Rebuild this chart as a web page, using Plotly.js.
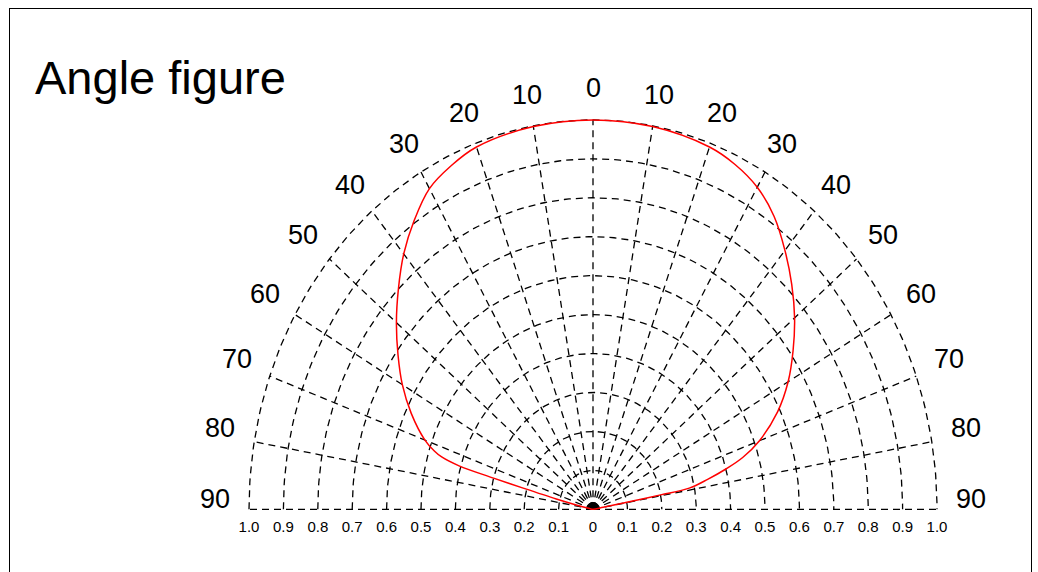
<!DOCTYPE html>
<html><head><meta charset="utf-8">
<script src="https://cdn.plot.ly/plotly-3.0.1.min.js"></script>
<style>
body{margin:0;background:#fff;}
#chart{width:1038px;height:572px;}
#frame{position:absolute;left:9px;top:8px;width:1021px;height:600px;border:1px solid #000;pointer-events:none;}
</style>
</head><body>
<div id="chart"></div><div id="frame"></div>
<script>
// ---- data ----
const chartTitle = 'Angle figure';
const angleTicks = [0, 10, 20, 30, 40, 50, 60, 70, 80, 90];
const radialTicks = [0.1, 0.2, 0.3, 0.4, 0.5, 0.6, 0.7, 0.8, 0.9, 1.0];
const radialTickText = ['0.1', '0.2', '0.3', '0.4', '0.5', '0.6', '0.7', '0.8', '0.9', '1.0'];
const leftAngles = [0, 10, 20, 25, 30, 35, 40, 45, 50, 55, 60, 65, 70, 72, 73, 74, 74.5, 75, 76, 77, 79, 90];
const leftIntensity = [1.0, 0.998, 0.99, 0.974, 0.951, 0.906, 0.856, 0.80, 0.746, 0.692, 0.64, 0.583, 0.52, 0.485, 0.46, 0.405, 0.30, 0.21, 0.11, 0.05, 0.01, 0];
const rightAngles = [0, 10, 20, 25, 30, 35, 40, 45, 50, 55, 60, 65, 70, 73, 75, 77, 79, 79.3, 79.5, 80, 90];
const rightIntensity = [1.0, 0.998, 0.99, 0.977, 0.955, 0.918, 0.868, 0.817, 0.765, 0.71, 0.655, 0.592, 0.515, 0.455, 0.40, 0.342, 0.285, 0.2, 0.1, 0.03, 0];

// ---- helpers ----
const rad = d => d * Math.PI / 180;
const px = (r, a) => r * Math.sin(rad(a));   // a: signed angle from vertical (left negative)
const py = (r, a) => r * Math.cos(rad(a));

// grid arcs
const arcX = [], arcY = [];
radialTicks.forEach(r => {
  for (let a = -90; a <= 90; a += 1) { arcX.push(px(r, a)); arcY.push(py(r, a)); }
  arcX.push(null); arcY.push(null);
});
// grid spokes
const spokeX = [], spokeY = [];
const spokeAngles = angleTicks.slice(1).map(a => -a).reverse().concat(angleTicks);
spokeAngles.forEach(a => {
  spokeX.push(0, px(1, a), null); spokeY.push(0, py(1, a), null);
});
// curve
const curveX = [], curveY = [];
for (let i = leftAngles.length - 1; i >= 0; i--) { curveX.push(px(leftIntensity[i], -leftAngles[i])); curveY.push(py(leftIntensity[i], -leftAngles[i])); }
for (let i = 1; i < rightAngles.length; i++) { curveX.push(px(rightIntensity[i], rightAngles[i])); curveY.push(py(rightIntensity[i], rightAngles[i])); }
// centre dome
const domeX = [], domeY = [];
for (let a = -90; a <= 90; a += 10) { domeX.push(px(0.018, a)); domeY.push(py(0.018, a)); }

const gridStyle = {color: '#000', width: 1.3, dash: '7px,5px'};
const traces = [
  {x: arcX, y: arcY, mode: 'lines', line: gridStyle, hoverinfo: 'skip'},
  {x: spokeX, y: spokeY, mode: 'lines', line: gridStyle, hoverinfo: 'skip'},
  {x: domeX, y: domeY, mode: 'lines', fill: 'toself', fillcolor: '#000', line: {color: '#000', width: 1}, hoverinfo: 'skip'},
  {x: curveX, y: curveY, mode: 'lines', line: {color: '#ff0000', width: 1.5, shape: 'spline', smoothing: 1.0}, hoverinfo: 'skip'}
];

// bottom tick labels
const tickVals = [], tickText = [];
radialTicks.slice().reverse().forEach((r, i) => { tickVals.push(-r); tickText.push(radialTickText[radialTickText.length - 1 - i]); });
tickVals.push(0); tickText.push('0');
radialTicks.forEach((r, i) => { tickVals.push(r); tickText.push(radialTickText[i]); });

// angle labels
const labelFont = {family: 'Liberation Sans, Arial', size: 27, color: '#000'};
const annotations = [];
angleTicks.forEach(a => {
  const sides = a === 0 ? [1] : [-1, 1];
  sides.forEach(s => {
    annotations.push({x: s * 1.1 * Math.sin(rad(a)), y: 1.055 * Math.cos(rad(a)), xref: 'x', yref: 'y',
      text: String(a), showarrow: false, font: labelFont, yshift: 10});
  });
});

const W = 1038, H = 572;
const cx = 593, cy = 509, sx = 344, sy = 389;
const xr = [-1.25, 1.25], yr = [-0.03, 1.2];
const layout = {
  width: W, height: H,
  paper_bgcolor: '#fff', plot_bgcolor: '#fff',
  showlegend: false,
  margin: {l: cx + xr[0] * sx, r: W - (cx + xr[1] * sx), t: cy - yr[1] * sy, b: H - (cy - yr[0] * sy), pad: 0},
  title: {text: chartTitle, x: 35 / W, xanchor: 'left', xref: 'container', y: 1 - 78 / H, yref: 'container', yanchor: 'middle',
    font: {family: 'Liberation Sans, Arial', size: 47, color: '#000'}},
  xaxis: {range: xr, showgrid: false, zeroline: false, showline: false, ticks: '', tickmode: 'array',
    tickvals: tickVals, ticktext: tickText, tickfont: {family: 'Liberation Sans, Arial', size: 15, color: '#000'},
    ticklabelstandoff: -5, fixedrange: true},
  yaxis: {range: yr, visible: false, fixedrange: true},
  annotations: annotations
};
Plotly.newPlot('chart', traces, layout, {staticPlot: true, displayModeBar: false});
</script>
</body></html>
